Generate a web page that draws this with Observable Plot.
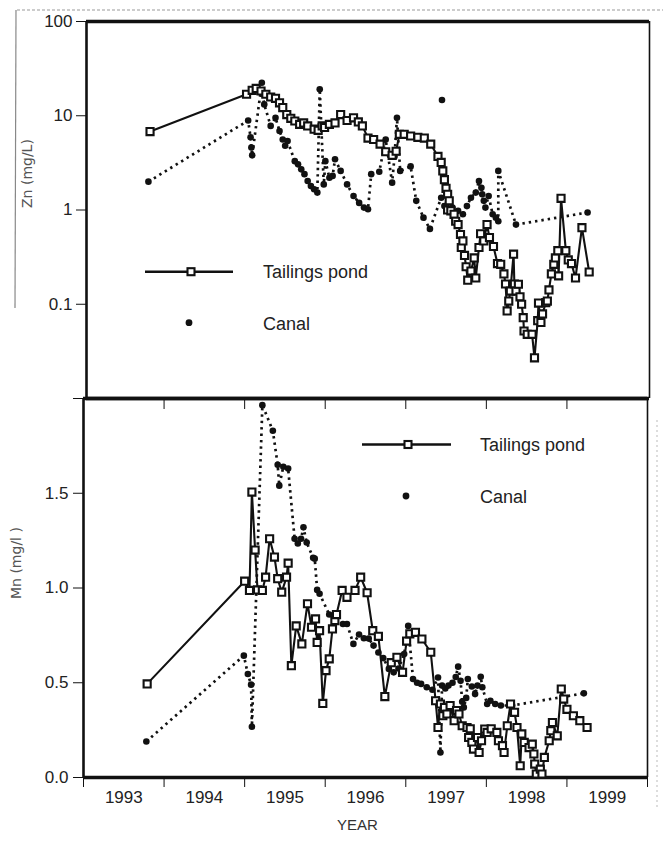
<!DOCTYPE html>
<html>
<head>
<meta charset="utf-8">
<script src="https://cdn.jsdelivr.net/npm/d3@7"></script>
<script src="https://cdn.jsdelivr.net/npm/@observablehq/plot@0.6"></script>
<style>
  body { margin: 0; background: #fff; }
  #page { position: relative; width: 663px; height: 847px; overflow: hidden; background: #fff; }
  #topPanel, #bottomPanel { position: absolute; left: 0; }
  #topPanel { top: 0; z-index: 1; }
  #bottomPanel { top: 390px; z-index: 2; }
  #overlay { position: absolute; left: 0; top: 0; z-index: 3; pointer-events: none; }
  svg { overflow: visible; }
</style>
</head>
<body>
<div id="page">
  <div id="topPanel"></div>
  <div id="bottomPanel"></div>
  <svg id="overlay" width="663" height="847"></svg>
</div>
<script>
// ---------- axis ticks / labels ----------
const yearTicks = [1993, 1994, 1995, 1996, 1997, 1998, 1999, 2000];
const yearLabels = [1993, 1994, 1995, 1996, 1997, 1998, 1999];
const znTicks = [100, 10, 1, 0.1, 0.01];
const mnTicks = [0, 0.5, 1.0, 1.5, 2.0];
const znTitle = "Zn (mg/L)";
const mnTitle = "Mn (mg/l )";
const xTitle = "YEAR";
const seriesNames = ["Tailings pond", "Canal"];

// ---------- Zn, tailings pond ----------
const pondZnYear = [1993.79,1994.99,1995.06,1995.11,1995.17,1995.23,1995.29,1995.35,1995.40,1995.44,1995.49,1995.54,1995.59,1995.65,1995.70,1995.75,1995.83,1995.88,1995.93,1995.96,1996.02,1996.09,1996.16,1996.24,1996.32,1996.38,1996.43,1996.50,1996.57,1996.65,1996.72,1996.80,1996.85,1996.89,1996.95,1997.03,1997.12,1997.20,1997.28,1997.37,1997.41,1997.43,1997.45,1997.47,1997.49,1997.51,1997.49,1997.53,1997.57,1997.59,1997.62,1997.65,1997.66,1997.68,1997.70,1997.72,1997.74,1997.78,1997.82,1997.84,1997.88,1997.90,1997.94,1997.98,1998.01,1998.06,1998.11,1998.15,1998.19,1998.21,1998.23,1998.25,1998.27,1998.31,1998.32,1998.34,1998.37,1998.39,1998.41,1998.43,1998.44,1998.48,1998.54,1998.57,1998.61,1998.62,1998.65,1998.67,1998.71,1998.73,1998.75,1998.78,1998.81,1998.83,1998.86,1998.87,1998.90,1998.96,1998.99,1999.03,1999.08,1999.16,1999.25];
const pondZn = [6.8,16.9,18.6,19.5,18.3,16.9,15.8,15.3,13.7,12.2,10.3,9.4,8.8,8.1,8.4,7.8,7.2,7.0,7.8,7.5,8.1,8.4,10.3,8.9,9.5,8.6,7.8,5.8,5.6,5.0,4.15,3.8,4.2,6.35,6.35,6.1,5.9,5.8,5.0,3.7,3.2,2.6,2.1,1.7,1.47,1.25,1.0,0.98,0.9,0.76,0.70,0.55,0.40,0.47,0.33,0.25,0.18,0.225,0.31,0.19,0.40,0.56,0.47,0.70,0.51,0.41,0.27,0.265,0.21,0.164,0.085,0.108,0.138,0.34,0.164,0.138,0.163,0.12,0.10,0.072,0.052,0.048,0.048,0.027,0.067,0.103,0.064,0.079,0.104,0.108,0.142,0.21,0.265,0.31,0.37,0.20,1.33,0.37,0.295,0.27,0.19,0.65,0.22];

// ---------- Zn, canal ----------
const canalZnYear = [1993.77,1995.01,1995.04,1995.05,1995.06,1995.18,1995.19,1995.21,1995.29,1995.35,1995.40,1995.44,1995.47,1995.50,1995.59,1995.63,1995.67,1995.71,1995.75,1995.79,1995.83,1995.87,1995.90,1995.95,1995.97,1996.02,1996.06,1996.09,1996.16,1996.24,1996.32,1996.39,1996.45,1996.50,1996.54,1996.64,1996.72,1996.80,1996.83,1996.86,1996.90,1997.03,1997.10,1997.19,1997.27,1997.41,1997.45,1997.50,1997.55,1997.62,1997.68,1997.73,1997.78,1997.84,1997.88,1997.91,1997.92,1997.94,1997.96,1998.00,1998.05,1998.09,1998.12,1998.12,1998.34,1999.23];
const canalZn = [2.0,8.9,5.9,4.6,3.8,22.4,16.9,13.2,7.8,9.5,6.9,5.6,4.8,5.4,3.3,3.05,2.7,2.4,2.03,1.8,1.66,1.53,19.1,1.87,3.3,2.2,2.3,3.45,2.6,1.87,1.41,1.19,1.06,1.02,2.4,2.55,5.6,1.95,3.7,9.5,2.6,2.9,1.25,0.83,0.63,1.35,1.10,1.02,1.06,0.98,0.90,1.10,1.35,1.53,2.03,1.72,1.47,1.25,1.06,1.41,0.90,0.83,0.76,2.6,0.70,0.94];
const canalZnLoneYear = [1997.42];
const canalZnLone = [14.7];

// ---------- Mn, tailings pond ----------
const pondMnYear = [1993.79,1995.00,1995.06,1995.09,1995.13,1995.16,1995.22,1995.26,1995.31,1995.37,1995.41,1995.46,1995.52,1995.54,1995.58,1995.64,1995.71,1995.78,1995.83,1995.88,1995.90,1995.93,1995.97,1996.01,1996.05,1996.09,1996.12,1996.14,1996.21,1996.27,1996.37,1996.44,1996.52,1996.59,1996.66,1996.74,1996.82,1996.89,1996.96,1997.01,1997.05,1997.12,1997.20,1997.31,1997.37,1997.40,1997.43,1997.46,1997.48,1997.51,1997.55,1997.60,1997.63,1997.66,1997.70,1997.76,1997.78,1997.80,1997.82,1997.84,1997.89,1997.91,1997.94,1997.98,1998.01,1998.06,1998.13,1998.15,1998.20,1998.22,1998.26,1998.30,1998.35,1998.38,1998.42,1998.44,1998.47,1998.53,1998.57,1998.59,1998.60,1998.62,1998.67,1998.69,1998.72,1998.78,1998.80,1998.82,1998.88,1998.93,1998.96,1999.00,1999.08,1999.16,1999.25];
const pondMn = [0.494,1.036,0.987,1.506,1.20,0.99,0.987,1.057,1.26,1.163,1.049,0.978,1.057,1.131,0.59,0.80,0.705,0.917,0.793,0.837,0.713,0.775,0.391,0.564,0.626,0.784,0.828,0.86,0.987,0.951,0.987,1.057,0.975,0.775,0.745,0.427,0.606,0.634,0.555,0.72,0.758,0.766,0.731,0.661,0.405,0.264,0.388,0.326,0.37,0.335,0.38,0.30,0.353,0.335,0.273,0.264,0.211,0.257,0.185,0.15,0.211,0.132,0.194,0.256,0.238,0.257,0.238,0.194,0.168,0.132,0.273,0.388,0.344,0.264,0.062,0.23,0.185,0.158,0.176,0.124,0.071,0.018,0.044,0.018,0.106,0.194,0.247,0.29,0.22,0.467,0.414,0.36,0.326,0.30,0.264];

// ---------- Mn, canal ----------
const canalMnYear = [1993.78,1994.99,1995.04,1995.08,1995.09,1995.22,1995.35,1995.41,1995.43,1995.48,1995.54,1995.62,1995.66,1995.70,1995.73,1995.77,1995.85,1995.87,1995.90,1995.93,1996.05,1996.22,1996.27,1996.35,1996.42,1996.48,1996.54,1996.60,1996.66,1996.72,1996.79,1996.85,1996.91,1996.98,1997.03,1997.09,1997.14,1997.19,1997.26,1997.33,1997.40,1997.43,1997.45,1997.49,1997.53,1997.58,1997.62,1997.65,1997.68,1997.70,1997.72,1997.75,1997.77,1997.82,1997.86,1997.89,1997.93,1997.95,1998.01,1998.05,1998.11,1998.18,1998.32,1999.21];
const canalMn = [0.19,0.643,0.546,0.49,0.268,1.965,1.83,1.65,1.54,1.64,1.63,1.26,1.235,1.26,1.32,1.24,1.16,1.155,0.99,0.97,0.86,0.81,0.81,0.705,0.755,0.735,0.733,0.696,0.66,0.63,0.573,0.555,0.575,0.652,0.80,0.52,0.50,0.494,0.476,0.463,0.528,0.132,0.485,0.47,0.485,0.50,0.53,0.585,0.51,0.40,0.37,0.42,0.52,0.48,0.44,0.485,0.532,0.476,0.388,0.405,0.388,0.38,0.38,0.444];

// ---------- build tables ----------
const zip = (xs, ys) => xs.map((x, i) => ({year: x, value: ys[i]}));
const pondZnData = zip(pondZnYear, pondZn);
const canalZnData = zip(canalZnYear, canalZn);
const canalZnLoneData = zip(canalZnLoneYear, canalZnLone);
const pondMnData = zip(pondMnYear, pondMn);
const canalMnData = zip(canalMnYear, canalMn);
const labelData = yearLabels.map(y => ({pos: y + 0.5, text: String(y)}));

const FONT = "'Liberation Sans', Arial, sans-serif";
const INK = "#111";
const dotted = {stroke: INK, strokeWidth: 2.7, strokeDasharray: "2.4,4", strokeLinecap: "butt"};
const solid = {stroke: INK, strokeWidth: 2.1};
const squareOpt = {symbol: "square", r: 4, stroke: INK, strokeWidth: 2.1, fill: "white"};
const circleOpt = {r: 3.3, fill: INK};

const xDomain = [yearTicks[0], yearTicks[yearTicks.length - 1]];

// ---------- top panel (Zn, log) ----------
const topPlot = Plot.plot({
  width: 663, height: 400,
  marginLeft: 86, marginRight: 14, marginTop: 21, marginBottom: 2,
  style: {background: "transparent", fontFamily: FONT, fontSize: "17px", color: INK, overflow: "visible"},
  x: {domain: xDomain, axis: null, label: null},
  y: {type: "log", domain: [znTicks[4], znTicks[0]], axis: null, label: null},
  marks: [
    Plot.axisY(znTicks, {anchor: "left", tickSize: 10, tickPadding: 4, label: null, fontSize: 17, fill: "#222",
      tickFormat: d => d === znTicks[4] ? "" : String(d)}),
    Plot.ruleX([xDomain[0]], {stroke: INK, strokeWidth: 2.6}),
    Plot.ruleX([xDomain[1]], {stroke: INK, strokeWidth: 1.6}),
    Plot.ruleY([znTicks[0]], {stroke: INK, strokeWidth: 3.5}),
    Plot.ruleY([znTicks[4]], {stroke: INK, strokeWidth: 3.5}),
    Plot.line(canalZnData, {x: "year", y: "value", ...dotted}),
    Plot.line(pondZnData, {x: "year", y: "value", ...solid}),
    Plot.dot(canalZnData, {x: "year", y: "value", ...circleOpt}),
    Plot.dot(canalZnLoneData, {x: "year", y: "value", ...circleOpt}),
    Plot.dot(pondZnData, {x: "year", y: "value", ...squareOpt}),
    Plot.text([znTitle], {frameAnchor: "left", rotate: -90, dx: -59, dy: -2, fontFamily: "'DejaVu Sans', sans-serif", fontSize: 14, fill: "#555"})
  ]
});
document.getElementById("topPanel").appendChild(topPlot);

// ---------- bottom panel (Mn, linear) ----------
const bottomPlot = Plot.plot({
  width: 663, height: 457,
  marginLeft: 83, marginRight: 16, marginTop: 8, marginBottom: 70,
  style: {background: "transparent", fontFamily: FONT, fontSize: "17px", color: INK, overflow: "visible"},
  x: {domain: xDomain, axis: null, label: null},
  y: {domain: [mnTicks[0], mnTicks[4]], axis: null, label: null},
  marks: [
    Plot.axisY(mnTicks, {anchor: "left", tickSize: 10, tickPadding: 5, label: null, fontSize: 17, fill: "#222",
      tickFormat: d => d === mnTicks[4] ? "" : d.toFixed(1)}),
    Plot.axisX(yearTicks, {anchor: "bottom", tickSize: 10, label: null, tickFormat: () => ""}),
    Plot.axisX(yearTicks, {anchor: "top", tickSize: -10, label: null, tickFormat: () => ""}),
    Plot.axisX(labelData.map(d => d.pos), {anchor: "bottom", tickSize: 0, tickPadding: 13, label: null, fontSize: 17, fill: "#222",
      tickFormat: d => String(Math.floor(d))}),
    Plot.ruleX([xDomain[0]], {stroke: INK, strokeWidth: 2.6}),
    Plot.ruleX([xDomain[1]], {stroke: INK, strokeWidth: 1.6}),
    Plot.ruleY([mnTicks[4]], {stroke: INK, strokeWidth: 3.5}),
    Plot.ruleY([mnTicks[0]], {stroke: INK, strokeWidth: 3.5}),
    Plot.line(canalMnData, {x: "year", y: "value", ...dotted}),
    Plot.line(pondMnData, {x: "year", y: "value", ...solid}),
    Plot.dot(canalMnData, {x: "year", y: "value", ...circleOpt}),
    Plot.dot(pondMnData, {x: "year", y: "value", ...squareOpt}),
    Plot.text([mnTitle], {frameAnchor: "left", rotate: -90, dx: -67, dy: 11, fontFamily: "'DejaVu Sans', sans-serif", fontSize: 14, fill: "#555"}),
    Plot.text([xTitle], {frameAnchor: "bottom", dy: 48, dx: -8, lineAnchor: "middle", fontSize: 15, fill: "#333"})
  ]
});
document.getElementById("bottomPanel").appendChild(bottomPlot);

// ---------- legends & scan edges (overlay) ----------
const ov = d3.select("#overlay");
ov.append("line").attr("x1", 17).attr("x2", 663).attr("y1", 10).attr("y2", 10)
  .attr("stroke", "#999").attr("stroke-width", 1).attr("stroke-dasharray", "3,2");
ov.append("line").attr("x1", 16).attr("x2", 15).attr("y1", 10).attr("y2", 308)
  .attr("stroke", "#888").attr("stroke-width", 1.2);
ov.append("line").attr("x1", 657).attr("x2", 657).attr("y1", 420).attr("y2", 810)
  .attr("stroke", "#bbb").attr("stroke-width", 1).attr("stroke-dasharray", "2,3");

function legend(lineX1, lineX2, lineY, sqX, dotX, dotY, textX, base1, base2) {
  const g = ov.append("g");
  g.append("line").attr("x1", lineX1).attr("x2", lineX2).attr("y1", lineY).attr("y2", lineY)
    .attr("stroke", INK).attr("stroke-width", 2.4);
  g.append("rect").attr("x", sqX - 3.5).attr("y", lineY - 3.5).attr("width", 7).attr("height", 7)
    .attr("fill", "white").attr("stroke", INK).attr("stroke-width", 2.1);
  g.append("circle").attr("cx", dotX).attr("cy", dotY).attr("r", 3.4).attr("fill", INK);
  g.append("text").attr("x", textX).attr("y", base1).text(seriesNames[0])
    .attr("font-family", FONT).attr("font-size", 18).attr("fill", "#222");
  g.append("text").attr("x", textX).attr("y", base2).text(seriesNames[1])
    .attr("font-family", FONT).attr("font-size", 18).attr("fill", "#222");
}
legend(145, 233, 271.7, 191, 189, 322.7, 263, 278, 329.5);
legend(362, 451, 444.5, 408, 406, 496, 480, 450.5, 502.5);
</script>
</body>
</html>
